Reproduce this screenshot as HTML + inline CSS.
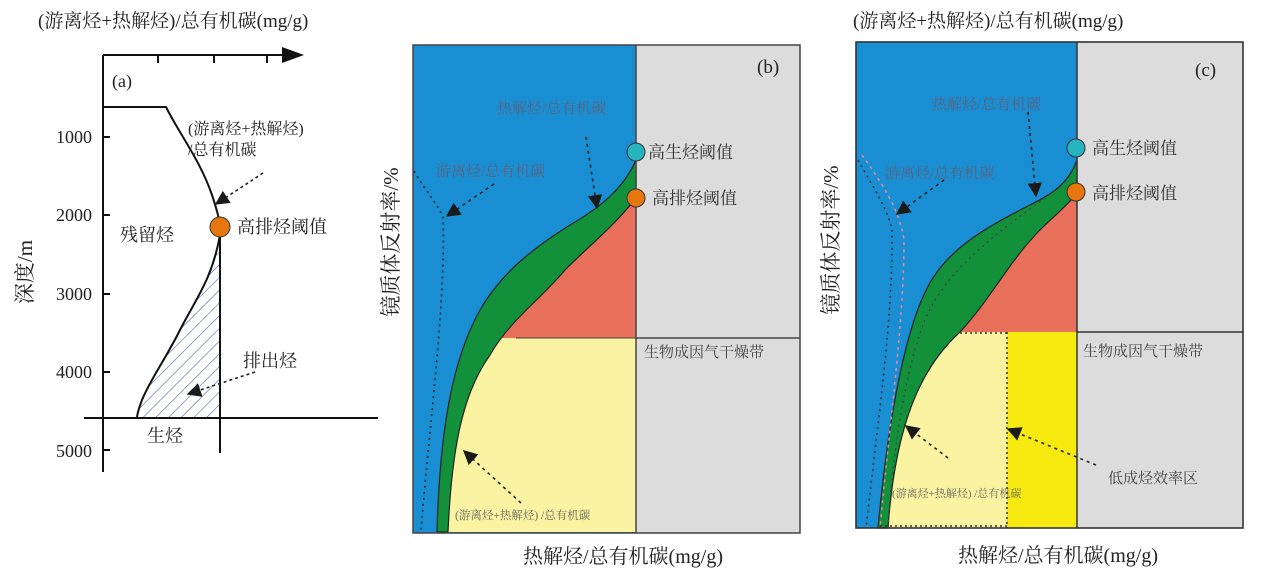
<!DOCTYPE html>
<html><head><meta charset="utf-8"><style>
html,body{margin:0;padding:0;background:#fff;}
svg{display:block;}
text{font-family:"Liberation Serif","Noto Serif CJK SC","Noto Sans CJK SC",serif;}
</style></head><body>
<svg width="1269" height="584" viewBox="0 0 1269 584" xmlns="http://www.w3.org/2000/svg">
<defs>
<pattern id="hatch" width="9" height="9" patternUnits="userSpaceOnUse" patternTransform="rotate(45)">
<line x1="0" y1="0" x2="0" y2="9" stroke="#5560b0" stroke-width="1.2"/>
</pattern>
<marker id="ah" viewBox="0 0 10 10" refX="9" refY="5" markerWidth="9" markerHeight="9" orient="auto"><path d="M0,0 L10,5 L0,10 z" fill="#1a1a1a"/></marker>
<clipPath id="cb"><path d="M636,198 C615,225 590,245 565,270 C540,300 510,320 490,355 C465,390 452,440 448,532 L636,532 z"/></clipPath>
<clipPath id="cc"><path d="M1077,193 C1068,205 1055,215 1040,230 C1010,260 990,300 960,332 C918,370 895,430 888,528 L1077,528 z"/></clipPath>
</defs>

<!-- Panel a -->
<text x="38" y="27" font-size="19" fill="#222">(游离烃+热解烃)/总有机碳(mg/g)</text>
<line x1="103" y1="55" x2="285" y2="55" stroke="#111" stroke-width="2"/>
<path d="M282,47 L304,55 L282,63 z" fill="#111"/>
<line x1="103" y1="55" x2="103" y2="472" stroke="#111" stroke-width="2"/>
<line x1="158" y1="55" x2="158" y2="63" stroke="#111" stroke-width="2"/>
<line x1="214" y1="55" x2="214" y2="63" stroke="#111" stroke-width="2"/>
<line x1="267" y1="55" x2="267" y2="63" stroke="#111" stroke-width="2"/>
<g font-size="18" fill="#222" text-anchor="end">
<text x="92" y="143">1000</text><text x="92" y="221">2000</text><text x="92" y="300">3000</text><text x="92" y="378">4000</text><text x="92" y="457">5000</text>
</g>
<g stroke="#111" stroke-width="2">
<line x1="103" y1="137" x2="110" y2="137"/><line x1="103" y1="215" x2="110" y2="215"/><line x1="103" y1="294" x2="110" y2="294"/><line x1="103" y1="372" x2="110" y2="372"/><line x1="103" y1="450" x2="110" y2="450"/>
</g>
<text x="112" y="87" font-size="18" fill="#222">(a)</text>
<text transform="translate(32,272) rotate(-90)" font-size="21" fill="#222" text-anchor="middle">深度/m</text>
<path d="M220,235 C212,280 195,300 180,330 C165,360 150,380 142,400 C139,408 137,414 137,418 L220,418 z" fill="url(#hatch)"/>
<path d="M103,107 L166,107 C180,135 200,160 212,195 C216,207 219,218 220,225" fill="none" stroke="#111" stroke-width="2"/>
<path d="M220,235 C212,280 195,300 180,330 C165,360 150,380 142,400 C139,408 137,414 137,418" fill="none" stroke="#111" stroke-width="2"/>
<line x1="220" y1="230" x2="220" y2="453" stroke="#111" stroke-width="2"/>
<line x1="84" y1="418" x2="378" y2="418" stroke="#111" stroke-width="2"/>
<circle cx="220" cy="227" r="10" fill="#e8760f" stroke="#333" stroke-width="1"/>
<text x="237" y="233" font-size="18" fill="#222">高排烃阈值</text>
<text x="120" y="241" font-size="18" fill="#222">残留烃</text>
<text x="188" y="134" font-size="16" fill="#222">(游离烃+热解烃)</text>
<text x="188" y="155" font-size="16" fill="#222">/总有机碳</text>
<line x1="263" y1="173" x2="216" y2="204" stroke="#222" stroke-width="1.6" stroke-dasharray="3,3" marker-end="url(#ah)"/>
<text x="243" y="367" font-size="18" fill="#222">排出烃</text>
<line x1="255" y1="372" x2="188" y2="394" stroke="#222" stroke-width="1.6" stroke-dasharray="3,3" marker-end="url(#ah)"/>
<text x="147" y="442" font-size="18" fill="#222">生烃</text>

<!-- Panel b -->
<rect x="413" y="45" width="387" height="488" fill="#dcdcdc"/>
<rect x="413" y="45" width="223" height="488" fill="#1a8ed2"/>
<g clip-path="url(#cb)">
<rect x="413" y="45" width="223" height="293" fill="#e8705a"/>
<rect x="413" y="338" width="223" height="195" fill="#faf3a2"/>
</g>
<path d="M636,160 C625,185 605,205 570,225 C530,250 500,275 480,310 C455,355 440,420 437,532 L448,532 C452,440 465,390 490,355 C510,320 540,300 565,270 C590,245 615,225 636,198 z" fill="#13913a" stroke="#222" stroke-width="1.2"/>
<rect x="413" y="45" width="387" height="488" fill="none" stroke="#444" stroke-width="1.5"/>
<line x1="636" y1="45" x2="636" y2="533" stroke="#444" stroke-width="1.5"/>
<line x1="636" y1="338" x2="800" y2="338" stroke="#444" stroke-width="1.5"/>
<line x1="516" y1="338" x2="636" y2="338" stroke="#444" stroke-width="1"/>
<path d="M414,171 C425,190 438,205 443,217 C446,300 430,420 421,530" fill="none" stroke="#222" stroke-width="1.5" stroke-dasharray="2,4"/>
<circle cx="636" cy="152" r="9" fill="#28b3c0" stroke="#333" stroke-width="1"/>
<circle cx="636" cy="198" r="9" fill="#e8760f" stroke="#333" stroke-width="1"/>
<text x="648" y="158" font-size="17" fill="#333">高生烃阈值</text>
<text x="652" y="204" font-size="17" fill="#333">高排烃阈值</text>
<text x="757" y="73" font-size="19" fill="#222">(b)</text>
<text x="497" y="113" font-size="15" fill="#5a6580">热解烃/总有机碳</text>
<text x="436" y="176" font-size="15" fill="#5a6580">游离烃/总有机碳</text>
<line x1="586" y1="137" x2="597" y2="208" stroke="#222" stroke-width="1.6" stroke-dasharray="3,4" marker-end="url(#ah)"/>
<line x1="494" y1="184" x2="447" y2="216" stroke="#222" stroke-width="1.6" stroke-dasharray="3,4" marker-end="url(#ah)"/>
<line x1="521" y1="503" x2="464" y2="451" stroke="#222" stroke-width="1.6" stroke-dasharray="3,4" marker-end="url(#ah)"/>
<text x="455" y="519" font-size="11.5" fill="#6a6a60">(游离烃+热解烃) /总有机碳</text>
<text x="644" y="357" font-size="15" fill="#444">生物成因气干燥带</text>
<text transform="translate(398,242) rotate(-90)" font-size="21" fill="#222" text-anchor="middle">镜质体反射率/%</text>
<text x="623" y="563" font-size="20" fill="#222" text-anchor="middle">热解烃/总有机碳(mg/g)</text>

<!-- Panel c -->
<text x="853" y="27" font-size="19" fill="#222">(游离烃+热解烃)/总有机碳(mg/g)</text>
<rect x="856" y="42" width="387" height="486" fill="#dcdcdc"/>
<rect x="856" y="42" width="221" height="486" fill="#1a8ed2"/>
<g clip-path="url(#cc)">
<rect x="856" y="42" width="221" height="290" fill="#e8705a"/>
<rect x="856" y="332" width="221" height="196" fill="#faf3a2"/>
<rect x="1007" y="332" width="70" height="196" fill="#f5e90f"/>
</g>
<path d="M1077,160 C1068,185 1050,195 1030,205 C990,225 955,245 935,275 C910,310 890,400 878,528 L888,528 C895,430 918,370 960,332 C990,300 1010,260 1040,230 C1055,215 1068,205 1077,193 z" fill="#13913a" stroke="#222" stroke-width="1.2"/>
<path d="M1060,187 C1000,230 945,270 925,320 C905,370 893,450 888,528" fill="none" stroke="#444" stroke-width="1.3" stroke-dasharray="2,4"/>
<rect x="856" y="42" width="387" height="486" fill="none" stroke="#333" stroke-width="1.6"/>
<line x1="1077" y1="42" x2="1077" y2="528" stroke="#333" stroke-width="1.5"/>
<line x1="1077" y1="332" x2="1243" y2="332" stroke="#333" stroke-width="1.5"/>
<path d="M1007,332 L1007,528 M880,526 L1007,526 M960,333 L1007,333" fill="none" stroke="#333" stroke-width="1.5" stroke-dasharray="2,3"/>
<path d="M858,160 C875,190 888,210 892,230 C893,320 878,420 866,528" fill="none" stroke="#3a2a2a" stroke-width="1.5" stroke-dasharray="2,4"/>
<path d="M862,155 C880,180 900,210 904,240 C904,320 890,420 880,528" fill="none" stroke="#e88a9a" stroke-width="1.5" stroke-dasharray="3,4"/>
<circle cx="1076" cy="148" r="9" fill="#28b3c0" stroke="#333" stroke-width="1"/>
<circle cx="1076" cy="192" r="9" fill="#e8760f" stroke="#333" stroke-width="1"/>
<text x="1092" y="154" font-size="17" fill="#333">高生烃阈值</text>
<text x="1092" y="199" font-size="17" fill="#333">高排烃阈值</text>
<text x="1195" y="76" font-size="19" fill="#222">(c)</text>
<text x="932" y="109" font-size="15" fill="#5a6580">热解烃/总有机碳</text>
<text x="885" y="178" font-size="15" fill="#5a6580">游离烃/总有机碳</text>
<line x1="1028" y1="112" x2="1036" y2="196" stroke="#222" stroke-width="1.6" stroke-dasharray="3,4" marker-end="url(#ah)"/>
<line x1="944" y1="180" x2="897" y2="214" stroke="#222" stroke-width="1.6" stroke-dasharray="3,4" marker-end="url(#ah)"/>
<line x1="948" y1="458" x2="906" y2="426" stroke="#222" stroke-width="1.6" stroke-dasharray="3,4" marker-end="url(#ah)"/>
<line x1="1096" y1="465" x2="1008" y2="429" stroke="#222" stroke-width="1.6" stroke-dasharray="3,4" marker-end="url(#ah)"/>
<text x="892" y="497" font-size="11" fill="#6a6a60">(游离烃+热解烃) /总有机碳</text>
<text x="1083" y="356" font-size="15" fill="#444">生物成因气干燥带</text>
<text x="1108" y="483" font-size="15" fill="#444">低成烃效率区</text>
<text transform="translate(838,240) rotate(-90)" font-size="21" fill="#222" text-anchor="middle">镜质体反射率/%</text>
<text x="1058" y="562" font-size="20" fill="#222" text-anchor="middle">热解烃/总有机碳(mg/g)</text>
</svg>
</body></html>
